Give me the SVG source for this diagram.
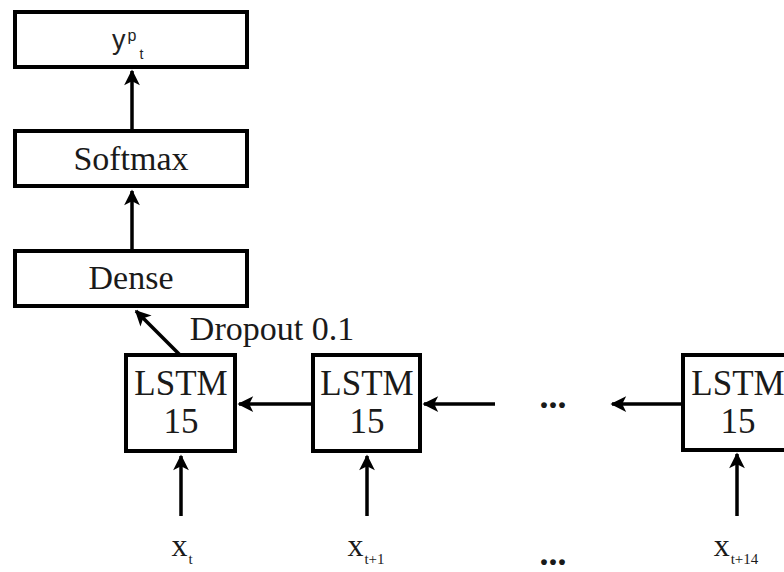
<svg xmlns="http://www.w3.org/2000/svg" width="784" height="572" viewBox="0 0 784 572">
<style>
.box{fill:#fff;stroke:#000;stroke-width:4}
.t{font-family:"Liberation Serif","Times New Roman",serif;fill:#1a1a1a;text-anchor:middle}
.s{font-family:"Liberation Sans",Arial,sans-serif;fill:#222}
.c{stroke:#000;stroke-width:3.5;fill:none;marker-end:url(#ah)}
</style>
<defs>
<marker id="ah" viewBox="0 0 10 10" refX="9" refY="5" markerWidth="5.5" markerHeight="4.5" orient="auto" markerUnits="strokeWidth">
<path d="M0,0 L10,5 L0,10 L2.5,5 z" fill="#000"/>
</marker>
</defs>
<rect width="784" height="572" fill="#fff"/>
<g id="connectors">
<line class="c" x1="132" y1="131" x2="132" y2="71"/>
<line class="c" x1="132" y1="251" x2="132" y2="191"/>
<line class="c" x1="180" y1="355" x2="136" y2="311"/>
<line class="c" x1="313" y1="404" x2="239" y2="404"/>
<line class="c" x1="495" y1="404" x2="424" y2="404"/>
<line class="c" x1="683" y1="404" x2="612" y2="404"/>
<line class="c" x1="181" y1="516" x2="181" y2="456"/>
<line class="c" x1="367" y1="516" x2="367" y2="456"/>
<line class="c" x1="737" y1="516" x2="737" y2="454"/>
</g>
<g id="output">
<rect class="box" x="15" y="12" width="232" height="55"/>
<text class="s" x="112" y="49" font-size="27">y<tspan font-size="16" dx="2" dy="-8">p</tspan><tspan font-size="14" dx="3" dy="18">t</tspan></text>
</g>
<g id="softmax">
<rect class="box" x="15" y="131" width="232" height="55"/>
<text class="t" x="131" y="170" font-size="34">Softmax</text>
</g>
<g id="dense">
<rect class="box" x="15" y="251" width="232" height="55"/>
<text class="t" x="131" y="289" font-size="34">Dense</text>
</g>
<g id="dropout-label">
<text class="t" x="272" y="340" font-size="34">Dropout 0.1</text>
</g>
<g id="lstm1">
<rect class="box" x="126" y="355" width="109" height="96"/>
<text class="t" x="181" y="395" font-size="35">LSTM</text>
<text class="t" x="181" y="433" font-size="35">15</text>
</g>
<g id="lstm2">
<rect class="box" x="313" y="355" width="107" height="96"/>
<text class="t" x="367" y="395" font-size="35">LSTM</text>
<text class="t" x="367" y="433" font-size="35">15</text>
</g>
<g id="lstm3">
<rect class="box" x="683" y="355" width="109" height="95"/>
<text class="t" x="738" y="395" font-size="35">LSTM</text>
<text class="t" x="738" y="433" font-size="35">15</text>
</g>
<g id="dots">
<text class="t" x="553" y="408" font-size="36" font-weight="bold">...</text>
<text class="t" x="553" y="565" font-size="36" font-weight="bold">...</text>
</g>
<g id="inputs">
<text class="t" x="182" y="556" font-size="32">x<tspan font-size="15" dx="1" dy="8">t</tspan></text>
<text class="t" x="366" y="556" font-size="32">x<tspan font-size="15" dx="1" dy="8">t+1</tspan></text>
<text class="t" x="736" y="556" font-size="32">x<tspan font-size="15" dx="1" dy="8">t+14</tspan></text>
</g>
</svg>
